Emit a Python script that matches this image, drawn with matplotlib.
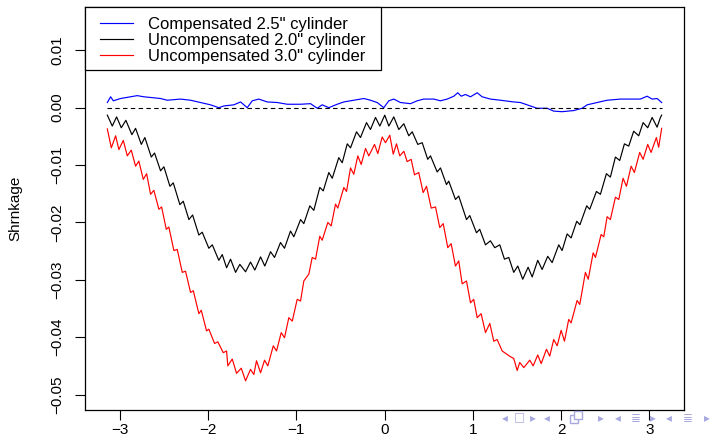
import matplotlib
matplotlib.use("Agg")
import matplotlib.pyplot as plt
from matplotlib.lines import Line2D
from matplotlib.patches import Rectangle

plt.rcParams['font.family'] = ['Liberation Sans', 'DejaVu Sans']

# ---- data ----
black_x = [-3.14, -3.084, -3.035, -2.982, -2.930, -2.862, -2.820, -2.755, -2.715, -2.642,
           -2.605, -2.537, -2.499, -2.431, -2.393, -2.318, -2.280, -2.216, -2.174, -2.103,
           -2.065, -1.990, -1.951, -1.877, -1.838, -1.789, -1.744, -1.687, -1.639, -1.574,
           -1.518, -1.469, -1.404, -1.356, -1.291, -1.246, -1.178, -1.133, -1.065, -1.027,
           -0.951, -0.914, -0.846, -0.801, -0.733, -0.694, -0.631, -0.592, -0.518, -0.479,
           -0.422, -0.385, -0.317, -0.272, -0.204, -0.159, -0.102, -0.053, 0.003, 0.049,
           0.105, 0.162, 0.219, 0.275, 0.314, 0.377, 0.427, 0.490, 0.521, 0.597,
           0.634, 0.702, 0.728, 0.804, 0.841, 0.929, 0.966, 1.042, 1.079, 1.144,
           1.200, 1.249, 1.306, 1.359, 1.408, 1.464, 1.510, 1.566, 1.627, 1.673,
           1.736, 1.786, 1.849, 1.899, 1.974, 2.012, 2.069, 2.114, 2.178, 2.214,
           2.291, 2.325, 2.401, 2.446, 2.514, 2.559, 2.616, 2.665, 2.718, 2.767,
           2.823, 2.880, 2.930, 2.982, 3.032, 3.088, 3.126, 3.14]
black_y = [-0.0013, -0.0032, -0.0016, -0.0035, -0.0022, -0.0047, -0.0036, -0.0064, -0.0052, -0.0086,
           -0.0079, -0.0110, -0.0103, -0.0137, -0.0131, -0.0169, -0.0163, -0.0195, -0.0187, -0.0222,
           -0.0217, -0.0245, -0.0239, -0.0266, -0.0256, -0.0279, -0.0264, -0.0287, -0.0273, -0.0286,
           -0.0269, -0.0283, -0.0260, -0.0276, -0.0251, -0.0261, -0.0235, -0.0245, -0.0215, -0.0225,
           -0.0195, -0.0202, -0.0171, -0.0179, -0.0139, -0.0145, -0.0113, -0.0123, -0.0087, -0.0096,
           -0.0063, -0.0070, -0.0042, -0.0052, -0.0026, -0.0038, -0.0017, -0.0032, -0.0013, -0.0032,
           -0.0016, -0.0038, -0.0028, -0.0049, -0.0042, -0.0064, -0.0061, -0.0090, -0.0084, -0.0112,
           -0.0105, -0.0134, -0.0128, -0.0160, -0.0154, -0.0195, -0.0188, -0.0218, -0.0212, -0.0239,
           -0.0232, -0.0244, -0.0239, -0.0264, -0.0261, -0.0287, -0.0276, -0.0299, -0.0278, -0.0295,
           -0.0266, -0.0282, -0.0259, -0.0270, -0.0239, -0.0249, -0.0220, -0.0227, -0.0198, -0.0204,
           -0.0171, -0.0177, -0.0146, -0.0151, -0.0115, -0.0121, -0.0086, -0.0092, -0.0063, -0.0067,
           -0.0041, -0.0049, -0.0026, -0.0035, -0.0017, -0.0034, -0.0017, -0.0013]

red_x = [-3.14, -3.095, -3.046, -3.009, -2.959, -2.914, -2.869, -2.820, -2.783, -2.733,
         -2.695, -2.650, -2.613, -2.556, -2.525, -2.472, -2.443, -2.386, -2.348, -2.291,
         -2.254, -2.197, -2.166, -2.103, -2.076, -2.016, -1.990, -1.925, -1.888, -1.827,
         -1.789, -1.775, -1.725, -1.676, -1.623, -1.574, -1.518, -1.480, -1.450, -1.404,
         -1.359, -1.322, -1.260, -1.223, -1.170, -1.133, -1.084, -1.045, -0.989, -0.951,
         -0.914, -0.857, -0.819, -0.781, -0.733, -0.706, -0.642, -0.604, -0.555, -0.529,
         -0.461, -0.430, -0.385, -0.348, -0.302, -0.264, -0.215, -0.178, -0.113, -0.076,
         -0.026, 0.011, 0.060, 0.099, 0.136, 0.173, 0.219, 0.257, 0.302, 0.340,
         0.388, 0.438, 0.476, 0.529, 0.578, 0.626, 0.665, 0.717, 0.755, 0.804,
         0.841, 0.880, 0.929, 0.974, 1.011, 1.050, 1.095, 1.144, 1.193, 1.238,
         1.276, 1.333, 1.427, 1.464, 1.503, 1.532, 1.578, 1.646, 1.684, 1.736,
         1.775, 1.835, 1.872, 1.917, 1.956, 2.001, 2.039, 2.087, 2.114, 2.182,
         2.212, 2.276, 2.308, 2.364, 2.390, 2.454, 2.484, 2.522, 2.559, 2.616,
         2.654, 2.703, 2.741, 2.794, 2.831, 2.891, 2.930, 2.982, 3.020, 3.080,
         3.106, 3.14]
red_y = [-0.0037, -0.0070, -0.0049, -0.0073, -0.0057, -0.0084, -0.0074, -0.0102, -0.0093, -0.0125,
         -0.0115, -0.0151, -0.0144, -0.0177, -0.0173, -0.0212, -0.0208, -0.0249, -0.0247, -0.0287,
         -0.0285, -0.0322, -0.0319, -0.0359, -0.0353, -0.0389, -0.0386, -0.0411, -0.0408, -0.0427,
         -0.0424, -0.0450, -0.0438, -0.0463, -0.0454, -0.0476, -0.0456, -0.0465, -0.0441, -0.0462,
         -0.0440, -0.0450, -0.0415, -0.0424, -0.0392, -0.0401, -0.0366, -0.0372, -0.0334, -0.0337,
         -0.0302, -0.0290, -0.0261, -0.0264, -0.0224, -0.0231, -0.0200, -0.0206, -0.0168, -0.0175,
         -0.0139, -0.0146, -0.0105, -0.0116, -0.0084, -0.0099, -0.0071, -0.0084, -0.0064, -0.0080,
         -0.0051, -0.0061, -0.0048, -0.0081, -0.0063, -0.0084, -0.0076, -0.0094, -0.0090, -0.0117,
         -0.0113, -0.0148, -0.0137, -0.0175, -0.0173, -0.0209, -0.0202, -0.0244, -0.0237, -0.0276,
         -0.0267, -0.0307, -0.0302, -0.0340, -0.0334, -0.0366, -0.0359, -0.0392, -0.0376, -0.0407,
         -0.0404, -0.0424, -0.0434, -0.0437, -0.0458, -0.0444, -0.0453, -0.0440, -0.0450, -0.0431,
         -0.0446, -0.0421, -0.0433, -0.0404, -0.0415, -0.0388, -0.0407, -0.0369, -0.0375, -0.0336,
         -0.0343, -0.0287, -0.0299, -0.0253, -0.0261, -0.0221, -0.0225, -0.0190, -0.0195, -0.0156,
         -0.0160, -0.0123, -0.0137, -0.0102, -0.0113, -0.0078, -0.0090, -0.0064, -0.0078, -0.0052,
         -0.0069, -0.0036]

blue_x = [-3.14, -3.103, -3.072, -2.990, -2.877, -2.801, -2.726, -2.537, -2.461, -2.310,
          -2.197, -2.084, -1.971, -1.877, -1.820, -1.707, -1.631, -1.555, -1.498, -1.424,
          -1.328, -1.215, -1.102, -0.951, -0.838, -0.762, -0.706, -0.631, -0.536, -0.461,
          -0.348, -0.234, -0.159, -0.083, -0.008, 0.049, 0.105, 0.181, 0.294, 0.370,
          0.445, 0.558, 0.634, 0.710, 0.785, 0.830, 0.869, 0.917, 0.974, 1.050,
          1.106, 1.200, 1.314, 1.464, 1.540, 1.653, 1.729, 1.843, 1.917, 2.012,
          2.144, 2.239, 2.296, 2.409, 2.522, 2.673, 2.823, 2.899, 2.975, 3.032,
          3.088, 3.14]
blue_y = [0.0009, 0.0019, 0.0012, 0.0016, 0.0019, 0.0021, 0.0019, 0.0016, 0.0013, 0.0015,
          0.0013, 0.0009, 0.0005, 0.0000, 0.0003, 0.0005, 0.0010, 0.0000, 0.0012, 0.0015,
          0.0010, 0.0009, 0.0006, 0.0006, 0.0007, -0.0001, 0.0005, 0.0000, 0.0006, 0.0010,
          0.0013, 0.0016, 0.0013, 0.0009, 0.0000, 0.0012, 0.0015, 0.0009, 0.0007, 0.0012,
          0.0015, 0.0015, 0.0012, 0.0015, 0.0020, 0.0026, 0.0020, 0.0023, 0.0019, 0.0026,
          0.0019, 0.0015, 0.0013, 0.0010, 0.0009, 0.0003, -0.0001, -0.0001, -0.0006, -0.0007,
          -0.0005, -0.0001, 0.0005, 0.0009, 0.0013, 0.0015, 0.0015, 0.0015, 0.0020, 0.0015,
          0.0016, 0.0009]

labels = ['Compensated 2.5" cylinder', 'Uncompensated 2.0" cylinder', 'Uncompensated 3.0" cylinder']
colors = ['blue', 'black', 'red']
x_ticks = [-3, -2, -1, 0, 1, 2, 3]
y_ticks = [-0.05, -0.04, -0.03, -0.02, -0.01, 0.00, 0.01]
y_ticklabels = ['-0.05', '-0.04', '-0.03', '-0.02', '-0.01', '0.00', '0.01']
zero_x = [-3.14159, 3.14159]
zero_y = [0.0, 0.0]

# ---- figure ----
W, H = 717, 440
fig = plt.figure(figsize=(W / 100, H / 100), dpi=100)
ax = fig.add_axes([85 / W, 1 - 409.5 / H, (684 - 85) / W, (409.5 - 6.7) / H])

for xs, ys, col in [(blue_x, blue_y, colors[0]), (black_x, black_y, colors[1]),
                    (red_x, red_y, colors[2])]:
    ax.plot(xs, ys, color=col, lw=0.85, solid_joinstyle='round')
ax.plot(zero_x, zero_y, color='black', lw=0.8, ls=(0, (4, 3)))

ax.set_xlim(-3.393, 3.393)
ax.set_ylim(-0.0526, 0.0176)
ax.set_xticks(x_ticks)
ax.set_xticklabels(['\u22123', '\u22122', '\u22121', '0', '1', '2', '3'])
ax.set_yticks(y_ticks)
ax.set_yticklabels([t.replace('-', '\u2212') for t in y_ticklabels],
                   rotation=90, va='center')
ax.tick_params(axis='both', direction='out', length=7, width=0.8, labelsize=11)
ax.tick_params(axis='x', pad=3)
ax.tick_params(axis='y', pad=8)
for s in ax.spines.values():
    s.set_linewidth(0.9)

ax.set_ylabel('Shrnkage', fontsize=11)
ax.yaxis.set_label_coords(-63 / (684 - 85), 0.5)

# legend box (R style), placed in figure pixels
def fx(px):
    return px / W

def fy(py):
    return 1 - py / H

fig.add_artist(Rectangle((fx(85), fy(70)), fx(381) - fx(85), fy(7) - fy(70),
                         transform=fig.transFigure, facecolor='white',
                         edgecolor='black', lw=0.9, zorder=5))
for i, (lab, col) in enumerate(zip(labels, colors)):
    yy = 23 + 16 * i
    fig.add_artist(Line2D([fx(100), fx(133)], [fy(yy), fy(yy)], color=col, lw=0.85,
                          transform=fig.transFigure, zorder=6))
    fig.text(fx(148), fy(yy), lab, fontsize=12, ha='left', va='center_baseline',
             zorder=6)

# beamer navigation symbols (decoration)
nav = [(505, '\u25C2'), (519, '\u25A1'), (533, '\u25B8'), (547, '\u25C2'),
       (601, '\u25B8'), (618, '\u25C2'), (636, '\u2263'), (653, '\u25B8'), (669, '\u25C2'),
       (688, '\u2263'), (707, '\u25B8')]
for px, ch in nav:
    fig.text(fx(px), fy(418), ch, color='#a8a8e0', fontsize=8.5,
             ha='center', va='center', family=['DejaVu Sans'])
# overlapping-windows icon drawn as two small squares
for dx, dy in [(0, 0), (4, -4)]:
    fig.add_artist(Rectangle((fx(570 + dx), fy(423 + dy)), 8 / W, 8 / H,
                             transform=fig.transFigure, facecolor='white',
                             edgecolor='#a8a8e0', lw=1.0))

fig.savefig('out.png', dpi=100)
